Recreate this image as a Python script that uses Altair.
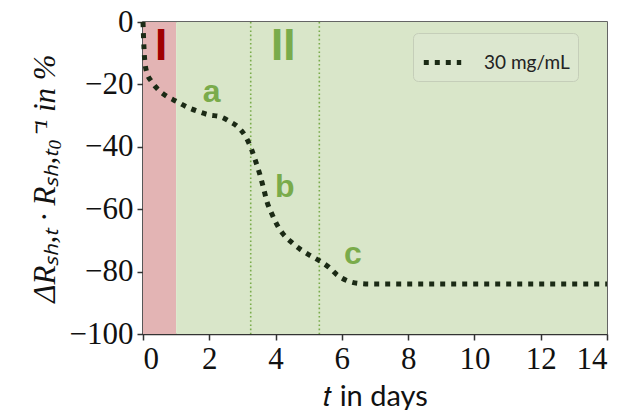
import altair as alt
import pandas as pd

# curve: relative sheet-resistance change (%) vs time (days)
t_days = [0, 0.02, 0.05, 0.11, 0.26, 0.49, 0.73, 1.02, 1.34, 1.67, 2.0, 2.32, 2.62,
          2.91, 3.11, 3.28, 3.41, 3.53, 3.63, 3.75, 3.88, 4.03, 4.21, 4.46, 4.74,
          5.02, 5.32, 5.61, 5.86, 6.16, 6.5, 6.85, 7.5, 8, 9, 10, 11, 12, 13, 14]
rel_change = [0, -6, -12, -16, -19.1, -22, -23.9, -25.5, -27.3, -28.7, -29.8, -30.3,
              -31.9, -34.1, -37, -41, -45, -49, -53, -57.9, -61.3, -64.7, -67.7,
              -70.4, -72.8, -74.7, -76.5, -78.6, -81.1, -82.9, -83.8, -84, -84, -84,
              -84, -84, -84, -84, -84, -84]
series_name = "30 mg/mL"

# phases
phase_start = [0, 1]
phase_end = [1, 14]
phase_color = ["#e3b4b4", "#d9e6c9"]

# dividers
divider_t = [3.25, 5.32]

# annotations
label_text = ["I", "II", "a", "b", "c"]
label_t = [0.55, 4.23, 2.07, 4.28, 6.33]
label_y = [-8, -8, -22.5, -53, -74.5]
label_color = ["#a00000", "#7aab4b", "#7aab4b", "#7aab4b", "#7aab4b"]
label_size = [44, 44, 32, 32, 32]

x_ticks = [0, 2, 4, 6, 8, 10, 12, 14]
y_ticks = [-100, -80, -60, -40, -20, 0]

W, H = 464, 312

curve = pd.DataFrame({"t": t_days, "v": rel_change, "series": [series_name] * len(t_days)})
phases = pd.DataFrame({"t0": phase_start, "t1": phase_end, "col": phase_color})
divs = pd.DataFrame({"t": divider_t})
labels = pd.DataFrame({"text": label_text, "t": label_t, "v": label_y,
                       "col": label_color, "size": label_size})

xscale = alt.Scale(domain=[0, 14], nice=False, zero=False)
yscale = alt.Scale(domain=[-100, 0], nice=False)

xaxis = alt.Axis(values=x_ticks, title="𝑡 in days", grid=False, format="d")
yaxis = alt.Axis(values=y_ticks, title="ΔRₛₕ,ₜ · Rₛₕ,ₜ₀⁻¹ in %", grid=False, format="d")

bg = alt.Chart(phases).mark_rect(opacity=1).encode(
    x=alt.X("t0:Q", scale=xscale, axis=xaxis),
    x2="t1:Q",
    y=alt.value(0),
    y2=alt.value(H),
    fill=alt.Fill("col:N", scale=None, legend=None),
)

rules = alt.Chart(divs).mark_rule(color="#7aab4b", strokeWidth=1.6, strokeDash=[1.6, 2.6]).encode(
    x=alt.X("t:Q", scale=xscale),
    y=alt.value(0),
    y2=alt.value(H),
)

line = alt.Chart(curve).mark_line(
    strokeWidth=5, strokeDash=[5, 6], strokeCap="butt", interpolate="monotone"
).encode(
    x=alt.X("t:Q", scale=xscale),
    y=alt.Y("v:Q", scale=yscale, axis=yaxis),
    color=alt.Color("series:N", scale=alt.Scale(range=["#1b2a15"]),
                    legend=alt.Legend(
                        title=None, orient="none", legendX=270, legendY=11,
                        symbolType="stroke", symbolDash=[5, 6], symbolStrokeWidth=5,
                        symbolSize=1400, labelFont="Lato", labelFontSize=19,
                        labelColor="#222", labelOffset=20,
                        fillColor="#dce7cf", strokeColor="#c5ceb9", cornerRadius=5,
                        padding=8,
                    )),
)

texts = alt.Chart(labels).mark_text(font="Liberation Sans", fontWeight="bold", baseline="middle").encode(
    x=alt.X("t:Q", scale=xscale),
    y=alt.Y("v:Q", scale=yscale),
    text="text:N",
    fill=alt.Fill("col:N", scale=None, legend=None),
    size=alt.Size("size:Q", scale=None, legend=None),
)

chart = alt.layer(bg, rules, line, texts).resolve_scale(
    fill="independent", color="independent"
).properties(
    width=W, height=H,
    autosize=alt.AutoSizeParams(type="none"),
    padding={"left": 135, "top": 14, "right": 10, "bottom": 80},
).configure_view(
    stroke="#333", strokeWidth=1.5
).configure_axis(
    domainColor="#333", domainWidth=1.5, tickColor="#333", tickWidth=1.5, tickSize=6,
    labelFont="Liberation Serif", labelFontSize=31, labelColor="#111",
    titleFont="Liberation Serif", titleFontSize=31, titleColor="#111", titleFontWeight="normal",
    labelPadding=4,
).configure_axisX(
    titleFont="Lato", titleFontSize=29, titlePadding=8,
).configure_axisY(
    titleFontStyle="italic", titlePadding=8,
)

chart.save("out.html", embed_options={"renderer": "svg", "actions": False})
